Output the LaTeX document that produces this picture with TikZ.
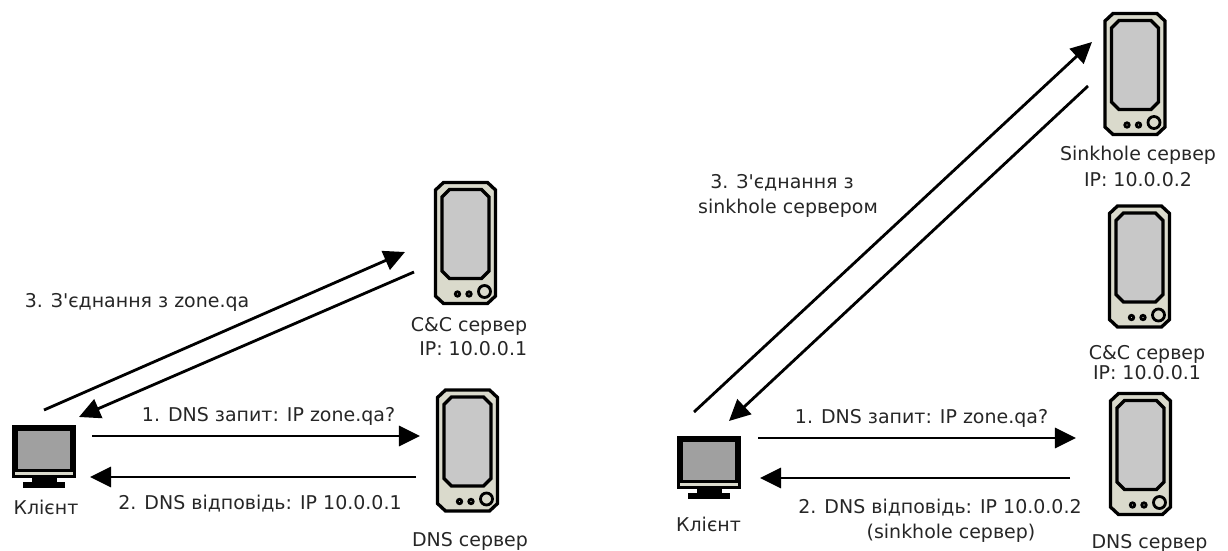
\documentclass[tikz,border=0pt]{standalone}
\usepackage{fontspec}
\newfontfamily\labelfont{DejaVu Sans}
\usetikzlibrary{arrows.meta}
\definecolor{casecol}{HTML}{DADACC}
\definecolor{panelcol}{HTML}{C8C8C8}
\definecolor{screencol}{HTML}{A0A0A0}
\definecolor{textcol}{HTML}{262626}
\tikzset{
  link/.style={draw=black, line width=1.6pt, -{Triangle[length=12pt,width=11.5pt]}},
  label/.style={font=\labelfont\fontsize{10.8pt}{11.4pt}\selectfont, text=textcol, inner sep=0pt, align=center},
  server/.pic={
    \draw [black, fill=casecol, line width=1.9pt] (-30,-53) -- (-22,-60.5) -- (22,-60.5) -- (30,-53) -- (30,53) -- (22,60.5) -- (-22,60.5) -- (-30,53) -- cycle;
    \draw [black, fill=panelcol, line width=1.9pt] (-16,-53.5) -- (16,-53.5) -- (23.5,-46) -- (23.5,28) -- (16,35.5) -- (-16,35.5) -- (-23.5,28) -- (-23.5,-46) -- cycle;
    \draw [black, fill=casecol, line width=1.6pt] (-8,51) circle (2.2);
    \draw [black, fill=casecol, line width=1.6pt] (3.5,51) circle (2.2);
    \draw [black, fill=casecol, line width=1.6pt] (19,48.5) circle (6);
  },
  client/.pic={
    \fill [black] (-32,-26) rectangle (32,27);
    \fill [screencol] (-26,-20) rectangle (26,18);
    \fill [casecol] (-29,21) rectangle (29,24);
    \fill [black] (-12,27) rectangle (13,31);
    \fill [black] (-21,31) rectangle (21,37);
  }
}
\begin{document}
\begin{tikzpicture}[x=0.02cm,y=-0.02cm]
\useasboundingbox (0,0) rectangle (1228,551);
% left side
\pic at (44,451) {client};
\pic at (465.5,243) {server};
\pic at (467.5,450.5) {server};
\node [label] (clientA) at (46,507) {Клієнт};
\node [label, align=right] (ccA) at (469,337) {C\&C сервер\\[2.3pt] IP: 10.0.0.1};
\node [label] (dnsA) at (470,541) {DNS сервер};
\node [label] (conA) at (137,302) {3. З'єднання з zone.qa};
\node [label] (reqA) at (268.5,416) {1. DNS запит: IP zone.qa?};
\node [label] (repA) at (260,504) {2. DNS відповідь: IP 10.0.0.1};
\coordinate (a1) at (44,410);
\coordinate (a2) at (405,252);
\coordinate (a3) at (414,272);
\coordinate (a4) at (79,417);
\coordinate (a5) at (92,436);
\coordinate (a6) at (420,436);
\coordinate (a7) at (416,477);
\coordinate (a8) at (90,477);
\draw [link] (a1) -- (a2);
\draw [link] (a3) -- (a4);
\draw [link] (a5) -- (a6);
\draw [link] (a7) -- (a8);
% right side
\pic at (709,462) {client};
\pic at (1135,74) {server};
\pic at (1139.5,266.5) {server};
\pic at (1140.5,454) {server};
\node [label] (clientB) at (708.5,524) {Клієнт};
\node [label] (sinkB) at (1138,166.5) {Sinkhole сервер\\[3.8pt] IP: 10.0.0.2};
\node [label] (ccB) at (1147,363) {C\&C сервер\\ IP: 10.0.0.1};
\node [label] (dnsB) at (1149.5,543) {DNS сервер};
\node [label] (conB) at (788,195.5) {3. З'єднання з\hspace*{6.8pt}\\[2.8pt] sinkhole сервером};
\node [label] (reqB) at (921.5,418) {1. DNS запит: IP zone.qa?};
\node [label] (repB) at (940,521) {2. DNS відповідь: IP 10.0.0.2\\[2.8pt] \hspace*{12.5pt}(sinkhole сервер)};
\coordinate (b1) at (694,412);
\coordinate (b2) at (1092,42);
\coordinate (b3) at (1088,86);
\coordinate (b4) at (729,421);
\coordinate (b5) at (758,438);
\coordinate (b6) at (1076,438);
\coordinate (b7) at (1070,478);
\coordinate (b8) at (760,478);
\draw [link] (b1) -- (b2);
\draw [link] (b3) -- (b4);
\draw [link] (b5) -- (b6);
\draw [link] (b7) -- (b8);
\end{tikzpicture}
\end{document}
